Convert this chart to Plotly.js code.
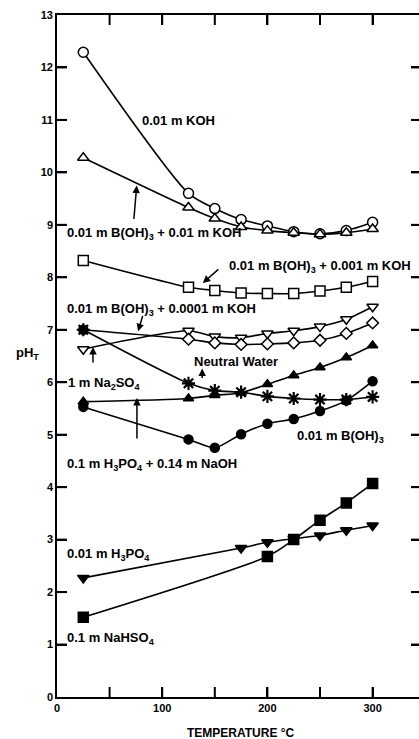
<!DOCTYPE html>
<html>
<head>
<meta charset="utf-8">
<script src="https://cdn.plot.ly/plotly-3.0.1.min.js"></script>
<style>
html,body{margin:0;padding:0;background:#fff;overflow:hidden;width:419px;height:739px;}
#chart{width:430px;height:739px;}
</style>
</head>
<body>
<div id="chart"></div>
<script>
// Temperatures (°C)
const temps = [25, 125, 150, 175, 200, 225, 250, 275, 300];
const tempsH3PO4 = [25, 175, 200, 225, 250, 275, 300];
const tempsNaHSO4 = [25, 200, 225, 250, 275, 300];

// pH_T values
const koh = [12.29, 9.60, 9.31, 9.10, 8.98, 8.87, 8.83, 8.89, 9.05];
const borKoh01 = [10.28, 9.33, 9.12, 8.96, 8.89, 8.85, 8.82, 8.85, 8.92];
const borKoh001 = [8.32, 7.81, 7.75, 7.70, 7.69, 7.69, 7.74, 7.81, 7.92];
const borKoh0001 = [6.63, 6.98, 6.87, 6.85, 6.93, 6.98, 7.06, 7.20, 7.44];
const na2so4 = [7.00, 6.82, 6.75, 6.72, 6.73, 6.75, 6.80, 6.93, 7.13];
const neutralWater = [7.00, 5.98, 5.84, 5.81, 5.73, 5.69, 5.67, 5.67, 5.72];
const phosNaOH = [5.63, 5.69, 5.75, 5.80, 5.96, 6.13, 6.28, 6.47, 6.70];
const boric = [5.53, 4.91, 4.75, 5.01, 5.21, 5.30, 5.45, 5.65, 6.02];
const h3po4 = [2.27, 2.84, 2.95, 3.02, 3.08, 3.18, 3.27];
const nahso4 = [1.52, 2.68, 3.00, 3.37, 3.70, 4.07];

// tick positions
const xTickMarks = [50, 100, 150, 200, 250, 300];
const yTickMarks = [1, 2, 3, 4, 5, 6, 7, 8, 9, 10, 11, 12];

const LINE = {color: '#000', width: 1.6, shape: 'spline', smoothing: 0.7};
function tr(name, x, y, symbol, size, fill) {
  return {
    type: 'scatter', mode: 'lines+markers', name: name, x: x, y: y,
    line: LINE,
    marker: {symbol: symbol, size: size, color: fill,
             line: {color: '#000', width: 1.5}},
    showlegend: false
  };
}

const data = [
  tr('0.01 m KOH', temps, koh, 'circle', 10, '#fff'),
  tr('0.01 m B(OH)3 + 0.01 m KOH', temps, borKoh01, 'triangle-up', 10, '#fff'),
  tr('0.01 m B(OH)3 + 0.001 m KOH', temps, borKoh001, 'square', 10, '#fff'),
  tr('0.01 m B(OH)3 + 0.0001 m KOH', temps, borKoh0001, 'triangle-down', 10, '#fff'),
  tr('1 m Na2SO4', temps, na2so4, temps.map((t, i) => i === 0 ? 'circle' : 'diamond'), 9,
     temps.map((t, i) => i === 0 ? '#000' : '#fff')),
  {type: 'scatter', mode: 'lines+markers', name: 'Neutral Water', x: temps, y: neutralWater,
   line: LINE, showlegend: false,
   marker: {symbol: 'asterisk-open', size: 11, color: '#000', line: {color: '#000', width: 2.2}}},
  tr('0.1 m H3PO4 + 0.14 m NaOH', temps, phosNaOH, 'triangle-up', 9, '#000'),
  tr('0.01 m B(OH)3', temps, boric, 'circle', 9, '#000'),
  tr('0.01 m H3PO4', tempsH3PO4, h3po4, 'triangle-down', 10, '#000'),
  tr('0.1 m NaHSO4', tempsNaHSO4, nahso4, 'square', 10, '#000')
];

const F = {family: 'Liberation Sans, Arial, sans-serif', size: 13, color: '#000', weight: 'bold'};
function lab(text, x, y) {
  return {text: text, x: x, y: y, xref: 'x', yref: 'y', xanchor: 'left', yanchor: 'middle',
          showarrow: false, font: F};
}
function arr(x, y, ax, ay) {
  return {text: '', x: x, y: y, xref: 'x', yref: 'y', showarrow: true, ax: ax, ay: ay,
          arrowhead: 2, arrowsize: 1, arrowwidth: 1.5, arrowcolor: '#000', standoff: 0};
}

const annotations = [
  lab('0.01 m KOH', 78.5, 10.98),
  lab('0.01 m B(OH)<sub>3</sub> + 0.01 m KOH', 7.6, 8.84),
  lab('0.01 m B(OH)<sub>3</sub> + 0.001 m KOH', 161.5, 8.2),
  lab('0.01 m B(OH)<sub>3</sub> + 0.0001 m KOH', 7.6, 7.38),
  lab('1 m Na<sub>2</sub>SO<sub>4</sub>', 8.5, 5.97),
  lab('Neutral Water', 128.5, 6.39),
  lab('0.01 m B(OH)<sub>3</sub>', 226.5, 4.96),
  lab('0.1 m H<sub>3</sub>PO<sub>4</sub> + 0.14 m NaOH', 7.6, 4.44),
  lab('0.01 m H<sub>3</sub>PO<sub>4</sub>', 7.6, 2.72),
  lab('0.1 m NaHSO<sub>4</sub>', 7.6, 1.12),
  arr(75.8, 9.75, -3, 35),
  arr(138.6, 7.89, 17, -15),
  arr(77.1, 6.97, 5, -17),
  arr(34.2, 6.67, 0, 17),
  arr(138.0, 6.26, 0, 11),
  arr(76.0, 5.70, 0, 42),
  {text: 'pH<sub>T</sub>', xref: 'paper', yref: 'paper', x: -0.082, y: 0.503,
   xanchor: 'center', yanchor: 'middle', showarrow: false, font: F},
  {text: 'TEMPERATURE °C', xref: 'paper', yref: 'paper', x: 0.506, y: -0.0525,
   xanchor: 'center', yanchor: 'middle', showarrow: false,
   font: {family: 'Liberation Sans, Arial, sans-serif', size: 12, color: '#000', weight: 'bold'}}
];

// inward tick marks on all four sides, fixed pixel length
const TL = 10;
const tickLine = {color: '#000', width: 2};
const shapes = [];
xTickMarks.forEach(v => {
  shapes.push({type: 'line', xref: 'x', yref: 'paper', ysizemode: 'pixel', yanchor: 0,
               x0: v, x1: v, y0: 0, y1: TL, line: tickLine, layer: 'above'});
  shapes.push({type: 'line', xref: 'x', yref: 'paper', ysizemode: 'pixel', yanchor: 1,
               x0: v, x1: v, y0: -TL, y1: 0, line: tickLine, layer: 'above'});
});
yTickMarks.forEach(v => {
  shapes.push({type: 'line', xref: 'paper', yref: 'y', xsizemode: 'pixel', xanchor: 0,
               x0: 0, x1: TL, y0: v, y1: v, line: tickLine, layer: 'above'});
  shapes.push({type: 'line', xref: 'paper', yref: 'y', xsizemode: 'pixel', xanchor: 1,
               x0: -TL, x1: 0, y0: v, y1: v, line: tickLine, layer: 'above'});
});

const TICKFONT = {family: 'Liberation Sans, Arial, sans-serif', size: 11, color: '#000', weight: 'bold'};

const layout = {
  width: 430, height: 739,
  margin: {l: 57, r: 9, t: 15, b: 42},
  paper_bgcolor: '#fff', plot_bgcolor: '#fff',
  xaxis: {
    range: [0, 346], tick0: 0, dtick: 100,
    showline: true, linecolor: '#000', linewidth: 1.8, mirror: 'ticks',
    ticks: 'inside', ticklen: 10, tickwidth: 2, tickcolor: '#000',
    showgrid: false, zeroline: false, tickfont: TICKFONT
  },
  yaxis: {
    range: [0, 13], tick0: 0, dtick: 1,
    showline: true, linecolor: '#000', linewidth: 1.8, mirror: 'ticks',
    ticks: 'inside', ticklen: 10, tickwidth: 2, tickcolor: '#000',
    showgrid: false, zeroline: false, tickfont: TICKFONT
  },
  shapes: shapes,
  annotations: annotations,
  showlegend: false
};

Plotly.newPlot('chart', data, layout, {staticPlot: true, displayModeBar: false});
</script>
</body>
</html>
